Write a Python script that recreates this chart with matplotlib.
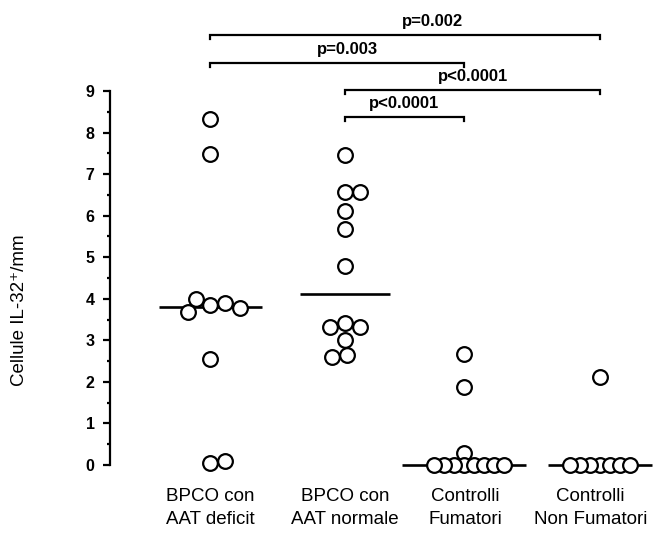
import numpy as np
import matplotlib
matplotlib.use("Agg")
import matplotlib.pyplot as plt
from matplotlib.ticker import FixedLocator

plt.rcParams['font.family'] = ['Liberation Sans', 'DejaVu Sans']

# ---------------- data ----------------
categories = ["BPCO con\nAAT deficit", "BPCO con\nAAT normale",
              "Controlli\nFumatori", "Controlli\nNon Fumatori"]
aat_deficit = [8.33, 7.49, 3.85, 3.89, 4.00, 3.69, 3.77, 2.56, 0.05, 0.10]
aat_normale = [7.45, 6.57, 6.57, 6.11, 5.69, 4.80, 3.41, 3.32, 3.32, 3.00, 2.64, 2.60]
fumatori = [2.67, 1.87, 0.28, 0, 0, 0, 0, 0, 0, 0, 0]
non_fumatori = [2.12, 0, 0, 0, 0, 0, 0, 0]
groups = [aat_deficit, aat_normale, fumatori, non_fumatori]

comparisons = [(0, 3, "p=0.002"), (0, 2, "p=0.003"),
               (1, 3, "p<0.0001"), (1, 2, "p<0.0001")]
y_ticks = list(range(0, 10))

# ---------------- layout ----------------
group_pos = [1.0, 2.0, 2.88, 3.89]
label_pos = [1.0, 2.0, 2.89, 3.82]
bracket_levels = [10.35, 9.68, 9.03, 8.38]
text_frac = [0.57, 0.54, 0.5, 0.5]
min_dist_px = [15, 15, 10, 10]

W, H = 656, 539
fig = plt.figure(figsize=(W / 100, H / 100), dpi=100)
ylo, yhi = -0.5, 10.8
px_per_unit_y = (465 - 91) / 9.0
bottom_px = 465 + (0 - ylo) * px_per_unit_y
top_px = 465 - yhi * px_per_unit_y
ax = fig.add_axes([110 / W, (H - bottom_px) / H, (W - 110) / W, (bottom_px - top_px) / H])
px_per_unit_x = 135.0
xlo = 1.0 - 100 / px_per_unit_x
xhi = 1.0 + (W - 210) / px_per_unit_x
ax.set_xlim(xlo, xhi)
ax.set_ylim(ylo, yhi)


def swarm(values, d):
    """simple beeswarm offsets in pixels"""
    placed = []
    offs = []
    for v in values:
        y = v * px_per_unit_y
        cand = [0.0]
        for k in range(1, 400):
            cand += [k * 0.5, -k * 0.5]
        for c in cand:
            ok = all((c - px) ** 2 + (y - py) ** 2 >= d * d - 1e-6 for px, py in placed)
            if ok:
                placed.append((c, y))
                offs.append(c)
                break
    return np.array(offs)


for i, vals in enumerate(groups):
    offs = swarm(vals, min_dist_px[i])
    xs = group_pos[i] + offs / px_per_unit_x
    med = np.median(vals)
    half = max(45, np.max(np.abs(offs)) + 22) / px_per_unit_x
    ax.plot([group_pos[i] - half, group_pos[i] + half], [med, med],
            color='black', lw=1.9, zorder=3, clip_on=False, solid_capstyle='butt')
    ax.scatter(xs, vals, s=112, facecolor='white', edgecolor='black',
               linewidths=1.6, zorder=4, clip_on=False)

# brackets
tick_h = 4 / px_per_unit_y
for (a, b, txt), lvl, fr in zip(comparisons, bracket_levels, text_frac):
    x1, x2 = group_pos[a], group_pos[b]
    ax.plot([x1, x1, x2, x2], [lvl - tick_h, lvl, lvl, lvl - tick_h],
            color='black', lw=1.6, clip_on=False, solid_joinstyle='miter')
    ax.text(x1 + fr * (x2 - x1), lvl + 6 / px_per_unit_y, txt,
            ha='center', va='bottom', fontsize=12, fontweight='bold')

# axes styling
for s in ['top', 'right', 'bottom']:
    ax.spines[s].set_visible(False)
ax.spines['left'].set_bounds(0, 9)
ax.spines['left'].set_linewidth(1.6)
ax.set_yticks(y_ticks)
ax.set_yticklabels([str(t) for t in y_ticks], fontweight='bold', fontsize=11.5)
ax.yaxis.set_minor_locator(FixedLocator(np.arange(0.5, 9, 1.0)))
ax.tick_params(axis='y', which='major', length=5, width=1.6, pad=6)
ax.tick_params(axis='y', which='minor', length=2.5, width=1.6)
ax.set_xticks([])

for lp, lab in zip(label_pos, categories):
    ax.text(lp, (465 - 488) / px_per_unit_y, lab, ha='center', va='top',
            fontsize=13.5, linespacing=1.5)

fig.text(20 / W, 1 - 310 / H, "Cellule IL-32\u207a/mm", rotation=90,
         ha='center', va='center', fontsize=13.5)

fig.savefig("out.png", dpi=100)
